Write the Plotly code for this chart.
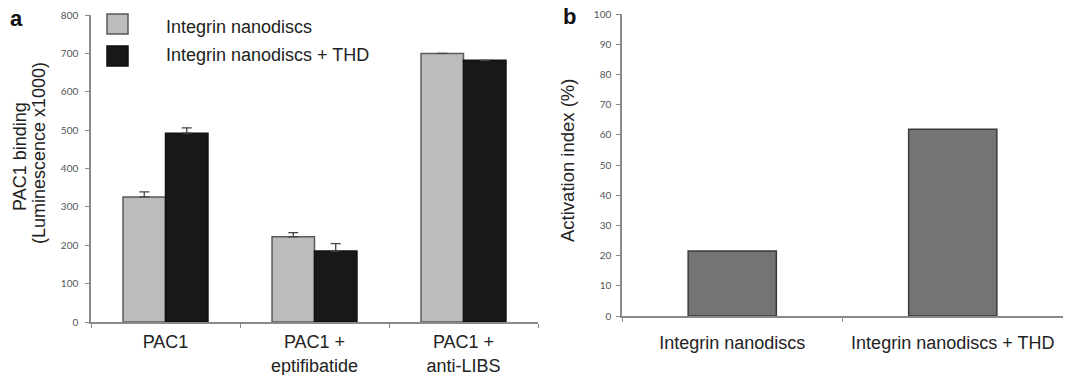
import plotly.graph_objects as go

W, H = 1069, 375

# ---- data ----
categories_a = ["PAC1", "PAC1 +<br>eptifibatide", "PAC1 +<br>anti-LIBS"]
series_names = ["Integrin nanodiscs", "Integrin nanodiscs + THD"]
nanodiscs = [326, 222, 700]
nanodiscs_err = [13, 11, None]
nanodiscs_thd = [492, 185, 682]
nanodiscs_thd_err = [14, 19, None]

categories_b = ["Integrin nanodiscs", "Integrin nanodiscs + THD"]
activation_index = [21.5, 61.8]

yticks_a = list(range(0, 801, 100))
yticks_b = list(range(0, 101, 10))

# ---- style ----
GRAY = "#bcbcbc"
BLACK = "#181818"
DARKGRAY = "#747474"
AXIS = "#8a8a8a"
TXT = "#222222"
FONT = "Liberation Sans, Arial, sans-serif"
TICKFONT = dict(family="Lato, Open Sans, sans-serif", size=10, color="#555555")


def px(x):
    return x / W


def py(y):
    return 1 - y / H


fig = go.Figure()

fig.add_trace(go.Bar(
    x=categories_a, y=nanodiscs, name=series_names[0],
    marker=dict(color=GRAY, line=dict(color="#5a5a5a", width=1.5)),
    error_y=dict(type="data", array=nanodiscs_err, arrayminus=[0, 0, 0], symmetric=False,
                 color="#444444", thickness=1.3, width=5),
    xaxis="x", yaxis="y", showlegend=False,
))
fig.add_trace(go.Bar(
    x=categories_a, y=nanodiscs_thd, name=series_names[1],
    marker=dict(color=BLACK, line=dict(color="#111111", width=1.5)),
    error_y=dict(type="data", array=nanodiscs_thd_err, arrayminus=[0, 0, 0], symmetric=False,
                 color="#444444", thickness=1.3, width=5),
    xaxis="x", yaxis="y", showlegend=False,
))
fig.add_trace(go.Bar(
    x=categories_b, y=activation_index,
    marker=dict(color=DARKGRAY, line=dict(color="#3a3a3a", width=1.5)),
    xaxis="x2", yaxis="y2", showlegend=False, width=0.4,
))

axis_common = dict(showline=True, linecolor=AXIS, linewidth=1.5, ticks="outside",
                   tickcolor=AXIS, ticklen=4, tickwidth=1.2, showgrid=False,
                   zeroline=False, automargin=False)

fig.update_layout(
    width=W, height=H,
    margin=dict(l=0, r=0, t=0, b=0),
    paper_bgcolor="white", plot_bgcolor="white",
    barmode="group", bargap=0.43, bargroupgap=0,
    font=dict(family=FONT, color=TXT, size=18),
    xaxis=dict(domain=[px(91), px(538)], anchor="y", tickson="boundaries",
               ticklabelstandoff=3,
               tickfont=dict(family=FONT, size=18, color=TXT), **axis_common),
    yaxis=dict(domain=[py(322), py(15)], anchor="x", range=[0, 800],
               ticklabelstandoff=5,
               tickvals=yticks_a, tickfont=TICKFONT, **axis_common),
    xaxis2=dict(domain=[px(622), px(1063)], anchor="y2", tickson="boundaries",
                ticklabelstandoff=10,
                tickfont=dict(family=FONT, size=18, color=TXT), **axis_common),
    yaxis2=dict(domain=[py(316), py(14)], anchor="x2", range=[0, 100],
                ticklabelstandoff=3,
                tickvals=yticks_b, tickfont=TICKFONT, **axis_common),
)

annotations = [
    dict(text="<b>a</b>", x=px(8), y=py(4), xanchor="left", yanchor="top",
         font=dict(size=22, color="#111111")),
    dict(text="<b>b</b>", x=px(561), y=py(2), xanchor="left", yanchor="top",
         font=dict(size=22, color="#111111")),
    dict(text="PAC1 binding", x=px(20), y=py(157),
         textangle=-90, xanchor="center", yanchor="middle", font=dict(size=18)),
    dict(text="(Luminescence x1000)", x=px(39), y=py(153),
         textangle=-90, xanchor="center", yanchor="middle", font=dict(size=18)),
    dict(text="Activation index (%)", x=px(567), y=py(161),
         textangle=-90, xanchor="center", yanchor="middle", font=dict(size=18.5)),
    dict(text=series_names[0], x=px(164), y=py(27), xanchor="left", yanchor="middle",
         font=dict(size=18)),
    dict(text=series_names[1], x=px(164), y=py(55), xanchor="left", yanchor="middle",
         font=dict(size=18)),
]
for a in annotations:
    a.update(xref="paper", yref="paper", showarrow=False)
fig.update_layout(annotations=annotations)

fig.add_shape(type="rect", xref="paper", yref="paper",
              x0=px(107), x1=px(128), y0=py(34), y1=py(14),
              fillcolor=GRAY, line=dict(color="#5a5a5a", width=1.5))
fig.add_shape(type="rect", xref="paper", yref="paper",
              x0=px(107), x1=px(128), y0=py(66), y1=py(46),
              fillcolor=BLACK, line=dict(color="#111111", width=1.5))

fig.write_html("out.html")
